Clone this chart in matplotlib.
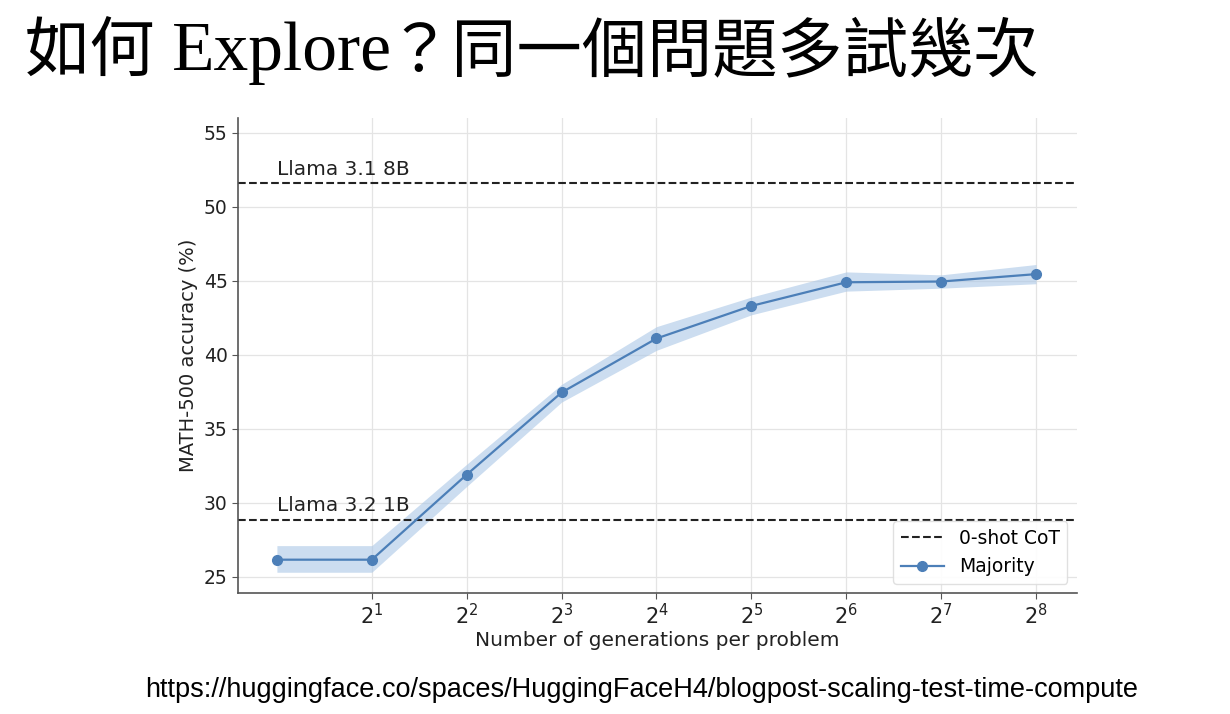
import matplotlib
matplotlib.use("Agg")
import matplotlib.pyplot as plt

# number of generations and accuracy (%)
n_gen = [1, 2, 4, 8, 16, 32, 64, 128, 256]
majority = [26.15, 26.15, 31.9, 37.45, 41.1, 43.3, 44.9, 44.95, 45.45]
band_low = [25.3, 25.3, 31.1, 36.8, 40.3, 42.7, 44.3, 44.5, 44.8]
band_high = [27.1, 27.1, 32.6, 38.0, 41.9, 43.9, 45.6, 45.4, 46.1]
baselines = {"Llama 3.1 8B": 51.6, "Llama 3.2 1B": 28.85}
tick_pos = [2, 4, 8, 16, 32, 64, 128, 256]
tick_lab = [f"$2^{{{k}}}$" for k in range(1, 9)]

fig = plt.figure(figsize=(12.3, 7.14), dpi=100)
ax = fig.add_axes([0.1935, 0.1695, 0.682, 0.6652])

blue = "#4c7fb8"
ax.fill_between(n_gen, band_low, band_high, color="#aac7e6", alpha=0.6, lw=0)
ax.plot(n_gen, majority, "-o", color=blue, ms=7, lw=1.6, label="Majority")

first = True
for name, val in baselines.items():
    ax.axhline(val, color="#222222", ls="--", lw=1.5,
               label="0-shot CoT" if first else None, zorder=1)
    ax.text(1, val + 0.3, name, fontsize=14.5, color="#222222", va="bottom")
    first = False

ax.set_xscale("log", base=2)
ax.set_xlim(2 ** -0.41, 2 ** 8.43)
ax.set_ylim(23.9, 56)
ax.set_xticks(tick_pos)
ax.set_xticklabels(tick_lab)
ax.minorticks_off()
ax.set_yticks([25, 30, 35, 40, 45, 50, 55])
ax.tick_params(labelsize=13.5, colors="#222222", length=4, color="#555555")
ax.tick_params(axis="x", labelsize=15)
ax.grid(True, color="#e4e4e4", lw=0.9)
ax.set_axisbelow(True)
for s in ["top", "right"]:
    ax.spines[s].set_visible(False)
for s in ["left", "bottom"]:
    ax.spines[s].set_color("#555555")
    ax.spines[s].set_linewidth(1.2)

ax.set_xlabel("Number of generations per problem", fontsize=14.5, color="#222222", labelpad=2)
ax.set_ylabel("MATH-500 accuracy (%)", fontsize=14, color="#222222")

handles, labels = ax.get_legend_handles_labels()
order = [labels.index("0-shot CoT"), labels.index("Majority")]
ax.legend([handles[i] for i in order], [labels[i] for i in order],
          loc="lower right", fontsize=13.5, framealpha=0.9, edgecolor="#dddddd",
          handlelength=2.3)

fig.text(0.02, 0.925, "如何", fontsize=47, fontweight="light",
         family=["Noto Sans CJK TC"], va="center", ha="left")
fig.text(0.14, 0.925, "Explore", fontsize=50,
         family=["Liberation Serif"], va="center", ha="left")
fig.text(0.314, 0.925, "？同一個問題多試幾次", fontsize=47, fontweight="light",
         family=["Noto Sans CJK TC"], va="center", ha="left")
fig.text(0.522, 0.034, "https://huggingface.co/spaces/HuggingFaceH4/blogpost-scaling-test-time-compute",
         fontsize=19.5, family="Liberation Sans", ha="center", va="center")

fig.savefig("out.png", dpi=100)
